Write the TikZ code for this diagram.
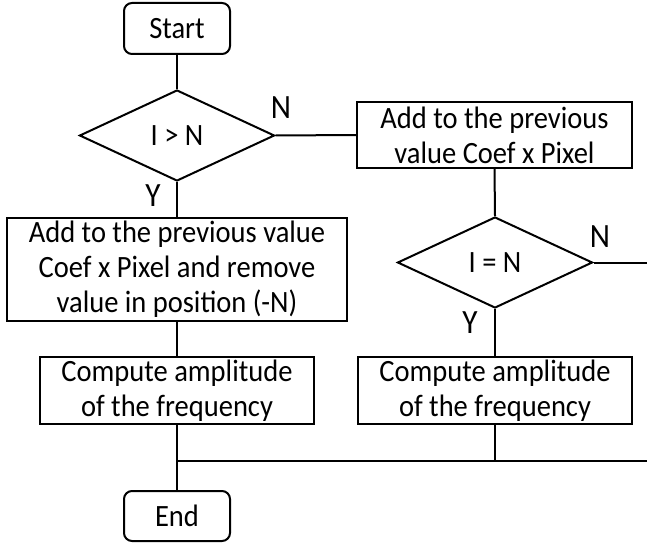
\documentclass[tikz,border=0pt]{standalone}
\usepackage{fontspec}
\setmainfont{Carlito}[FakeStretch=0.92]
\usetikzlibrary{shapes.geometric}
\tikzset{
  base/.style={draw=black, line width=2pt, inner sep=0pt, align=center,
    font=\fontsize{31}{35}\selectfont},
  procbox/.style={base, rectangle},
  termbox/.style={base, rectangle, rounded corners=8pt},
  decide/.style={base, diamond, minimum width=195pt, minimum height=91pt},
  lbl/.style={inner sep=0pt, font=\fontsize{34}{36}\selectfont},
  conn/.style={line width=2pt}
}
\begin{document}
\begin{tikzpicture}[x=1pt,y=-1pt]
\useasboundingbox (0,0) rectangle (647,543);
\node[termbox, minimum width=106pt, minimum height=51pt] (start) at (177,28.5) {Start};
\node[decide] (d1) at (177,135.5) {I > N};
\node[procbox, minimum width=275pt, minimum height=66pt] (b1) at (494.5,135) {Add to the previous\\value Coef x Pixel};
\node[decide] (d2) at (495,262.5) {I = N};
\node[procbox, minimum width=340pt, minimum height=103pt] (big) at (177,269.5) {Add to the previous value\\Coef x Pixel and remove\\value in position (-N)};
\node[procbox, minimum width=274pt, minimum height=67pt] (c1) at (177,390.5) {Compute amplitude\\of the frequency};
\node[procbox, minimum width=274pt, minimum height=67pt] (c2) at (495,390.5) {Compute amplitude\\of the frequency};
\node[termbox, minimum width=106pt, minimum height=50pt] (end) at (177,516) {End};
\node[lbl] (n1) at (281,108) {N};
\node[lbl] (y1) at (153,196) {Y};
\node[lbl] (n2) at (600,237) {N};
\node[lbl] (y2) at (470,323) {Y};
\coordinate (r2) at (647,262.5);
\coordinate (j1) at (177,461);
\coordinate (j2) at (495,461);
\coordinate (jr) at (647,461);
\draw[conn] (start.south) -- (d1.north);
\draw[conn] (d1.east) -- (b1.west);
\draw[conn] (b1.south) -- (d2.north);
\draw[conn] (d2.south) -- (c2.north);
\draw[conn] (d2.east) -- (r2);
\draw[conn] (d1.south) -- (big.north);
\draw[conn] (big.south) -- (c1.north);
\draw[conn] (c1.south) -- (end.north);
\draw[conn] (c2.south) -- (j2);
\draw[conn] (j1) -- (jr);
\end{tikzpicture}
\end{document}
